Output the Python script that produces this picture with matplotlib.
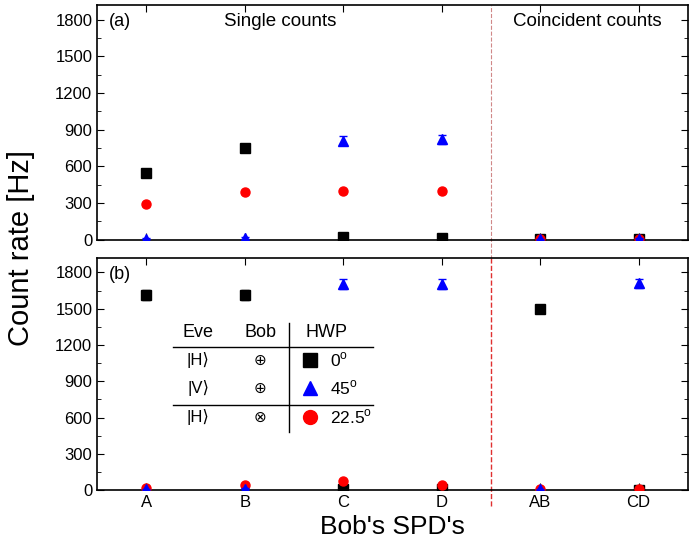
import matplotlib
matplotlib.use("Agg")
import matplotlib.pyplot as plt
import numpy as np

plt.rcParams['font.family'] = ['Liberation Sans', 'DejaVu Sans']
plt.rcParams['mathtext.fontset'] = 'custom'
plt.rcParams['mathtext.rm'] = 'Liberation Sans'

##############DATA#################
detectors = ["A", "B", "C", "D", "AB", "CD"]

# panel (a)
a_sq = [550, 750, 20, 15, 5, 5]
a_sq_err = [15, 15, 5, 5, 3, 3]
a_tri = [10, 15, 810, 820, 5, 10]
a_tri_err = [5, 5, 35, 35, 3, 3]
a_cir = [290, 390, 395, 395, 5, 5]
a_cir_err = [10, 12, 12, 12, 3, 3]

# panel (b)
b_sq = [1615, 1615, 5, 5, 1500, 3]
b_sq_err = [40, 40, 5, 5, 30, 3]
b_tri = [5, 10, 1705, 1705, 5, 1710]
b_tri_err = [5, 5, 45, 45, 3, 40]
b_cir = [20, 40, 75, 40, 5, 10]
b_cir_err = [5, 5, 8, 5, 3, 3]

yticks = [0, 300, 600, 900, 1200, 1500, 1800]

x = np.arange(1, len(detectors) + 1)

fig = plt.figure(figsize=(6.94, 5.5), dpi=100)
ax1 = fig.add_axes([0.14, 0.564, 0.851, 0.427])
ax2 = fig.add_axes([0.14, 0.109, 0.851, 0.422])


def draw(ax, sq, sqe, tri, trie, cir, cire):
    ax.errorbar(x, sq, yerr=sqe, fmt='s', color='black', ms=6.5, capsize=3, elinewidth=1, zorder=3)
    ax.errorbar(x, cir, yerr=cire, fmt='o', color='red', ms=6.5, capsize=3, elinewidth=1, zorder=4)
    ax.errorbar(x, tri, yerr=trie, fmt='^', color='blue', ms=6.5, capsize=3, elinewidth=1, zorder=5)
    ax.set_xlim(0.5, 6.5)
    ax.set_ylim(0, 1920)
    ax.set_xticks(x)
    ax.set_yticks(yticks)
    ax.set_yticks(np.arange(150, 1920, 300), minor=True)
    ax.tick_params(which='both', direction='in', top=True, right=True, labelsize=12)
    ax.tick_params(which='major', length=5)
    ax.tick_params(which='minor', length=3)
    for s in ax.spines.values():
        s.set_linewidth(1.2)


draw(ax1, a_sq, a_sq_err, a_tri, a_tri_err, a_cir, a_cir_err)
draw(ax2, b_sq, b_sq_err, b_tri, b_tri_err, b_cir, b_cir_err)

ax1.set_xticklabels([])
ax2.set_xticklabels(detectors, fontsize=12)

# separator between single and coincident counts
ax1.axvline(4.5, ymin=-0.08, ymax=1, color='#d08888', ls='--', lw=0.8, clip_on=False)
ax2.axvline(4.5, ymin=-0.07, ymax=1, color='#e03030', ls='--', lw=1.0, clip_on=False)

ax1.text(0.02, 0.93, "(a)", transform=ax1.transAxes, fontsize=13, va='center')
ax2.text(0.02, 0.93, "(b)", transform=ax2.transAxes, fontsize=13, va='center')
ax1.text(0.31, 0.93, "Single counts", transform=ax1.transAxes, fontsize=13.5, ha='center', va='center')
ax1.text(0.83, 0.93, "Coincident counts", transform=ax1.transAxes, fontsize=13.5, ha='center', va='center')

fig.text(0.03, 0.55, "Count rate [Hz]", rotation=90, fontsize=21, ha='center', va='center')
ax2.set_xlabel("Bob's SPD's", fontsize=19, labelpad=4)

# table-style legend
tx = ax2.transAxes
ax2.text(0.171, 0.677, "Eve", transform=tx, fontsize=13, ha='center', va='center')
ax2.text(0.276, 0.677, "Bob", transform=tx, fontsize=13, ha='center', va='center')
ax2.text(0.389, 0.677, "HWP", transform=tx, fontsize=13, ha='center', va='center')
ax2.plot([0.129, 0.467], [0.616, 0.616], color='black', lw=1, transform=tx, clip_on=False)
ax2.plot([0.129, 0.467], [0.366, 0.366], color='black', lw=1, transform=tx, clip_on=False)
ax2.plot([0.324, 0.324], [0.72, 0.25], color='black', lw=1, transform=tx, clip_on=False)

rows_eve = ["|H\u27e9", "|V\u27e9", "|H\u27e9"]
rows_bob = ["\u2295", "\u2295", "\u2297"]
rows_hwp = ["0$^\\mathrm{o}$", "45$^\\mathrm{o}$", "22.5$^\\mathrm{o}$"]
rows_mk = [('s', 'black'), ('^', 'blue'), ('o', 'red')]
rows_y = [0.56, 0.44, 0.315]
for ev, bo, hw, (mk, c), yy in zip(rows_eve, rows_bob, rows_hwp, rows_mk, rows_y):
    ax2.text(0.171, yy, ev, transform=tx, fontsize=12, ha='center', va='center')
    ax2.text(0.276, yy, bo, transform=tx, fontsize=11, ha='center', va='center',
             family=['DejaVu Sans'])
    ax2.plot([0.36], [yy], marker=mk, color=c, ms=10, transform=tx, ls='none')
    ax2.text(0.394, yy, hw, transform=tx, fontsize=12.5, ha='left', va='center')

fig.savefig("out.png", dpi=100)
